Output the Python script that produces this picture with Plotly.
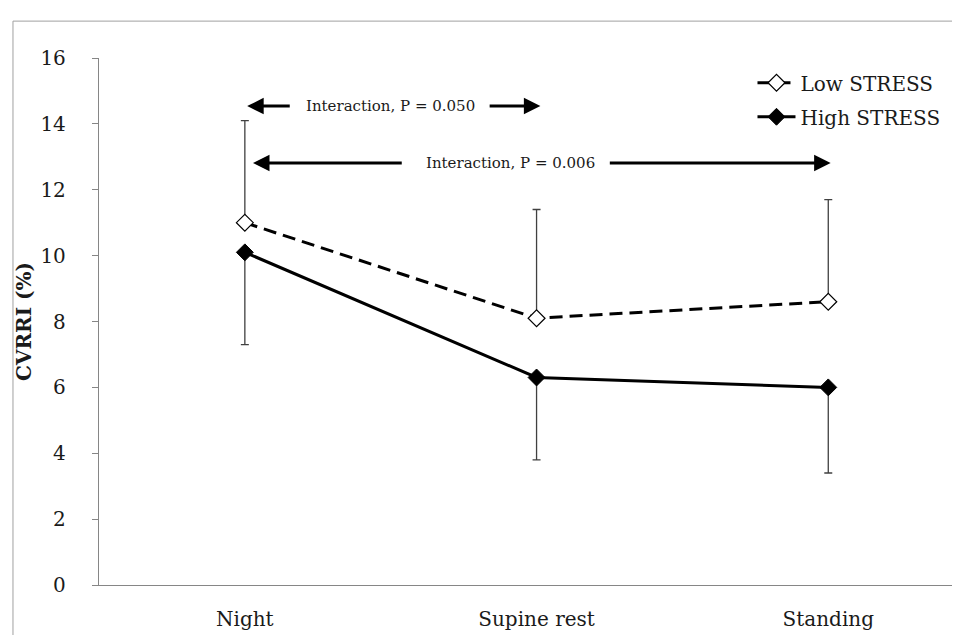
import plotly.graph_objects as go

categories = ["Night", "Supine rest", "Standing"]
low_stress = [11.0, 8.1, 8.6]
low_err_up = [3.1, 3.3, 3.1]
high_stress = [10.1, 6.3, 6.0]
high_err_down = [2.8, 2.5, 2.6]
y_ticks = [0, 2, 4, 6, 8, 10, 12, 14, 16]

FONT = "DejaVu Serif"
TXT = "#1a1a1a"
xpos = list(range(len(categories)))

fig = go.Figure()
fig.add_trace(go.Scatter(
    x=xpos, y=low_stress, name="Low STRESS", mode="lines+markers", legendgroup="a",
    line=dict(color="black", width=3, dash="13px,7px"),
    marker=dict(symbol="diamond", size=13, color="white", line=dict(color="black", width=1.2)),
    error_y=dict(type="data", array=low_err_up, arrayminus=[0]*3, symmetric=False,
                 color="#404040", thickness=1.3, width=4),
))
fig.add_trace(go.Scatter(
    x=xpos, y=high_stress, name="High STRESS", mode="lines+markers", legendgroup="b",
    line=dict(color="black", width=3),
    marker=dict(symbol="diamond", size=13, color="black", line=dict(color="black", width=1)),
    error_y=dict(type="data", array=[0]*3, arrayminus=high_err_down, symmetric=False,
                 color="#404040", thickness=1.3, width=4),
))

# annotation arrows (data coordinates)
def arrow(x_head, x_tail, y):
    fig.add_annotation(x=x_head, y=y, ax=x_tail, ay=y, xref="x", yref="y", axref="x", ayref="y",
                       text="", showarrow=True, arrowhead=2, arrowsize=1.1, arrowwidth=3, arrowcolor="black")

arrow(0.008, 0.159, 14.54)
arrow(1.013, 0.834, 14.54)
fig.add_annotation(x=0.498, y=14.54, xref="x", yref="y", text="Interaction, P = 0.050", showarrow=False,
                   font=dict(family=FONT, size=15, color=TXT))
arrow(0.028, 0.543, 12.81)
arrow(2.008, 1.246, 12.81)
fig.add_annotation(x=0.91, y=12.81, xref="x", yref="y", text="Interaction, P = 0.006", showarrow=False,
                   font=dict(family=FONT, size=15, color=TXT))

# outer frame (top and left edges visible)
fig.add_shape(type="line", xref="paper", yref="paper", x0=-0.099, x1=1.01, y0=1.070, y1=1.070,
              line=dict(color="#a0a0a0", width=1))
fig.add_shape(type="line", xref="paper", yref="paper", x0=-0.099, x1=-0.099, y0=-0.2, y1=1.070,
              line=dict(color="#a0a0a0", width=1))

fig.update_layout(
    width=960, height=635,
    margin=dict(l=91, r=0, t=50, b=58),
    paper_bgcolor="white", plot_bgcolor="white",
    font=dict(family=FONT, size=20, color=TXT),
    showlegend=True,
    legend=dict(x=0.752, y=0.99, xanchor="left", yanchor="top", bgcolor="rgba(0,0,0,0)",
                font=dict(family=FONT, size=20, color=TXT), itemwidth=38, tracegroupgap=5,
                traceorder="grouped"),
    xaxis=dict(range=[-0.5, 2.479], tickvals=xpos, ticktext=categories, showline=True,
               linecolor="#868686", linewidth=1.3, ticks="", showgrid=False, zeroline=False,
               ticklabelstandoff=16),
    yaxis=dict(range=[0, 16], tickvals=y_ticks, showline=True, linecolor="#868686", linewidth=1.3,
               ticks="outside", ticklen=6, tickcolor="#868686", showgrid=False, zeroline=False,
               ticklabelstandoff=22,
               title=dict(text="<b>CVRRI (%)</b>", font=dict(family=FONT, size=20, color=TXT),
                          standoff=3)),
)
fig.write_html("out.html")
